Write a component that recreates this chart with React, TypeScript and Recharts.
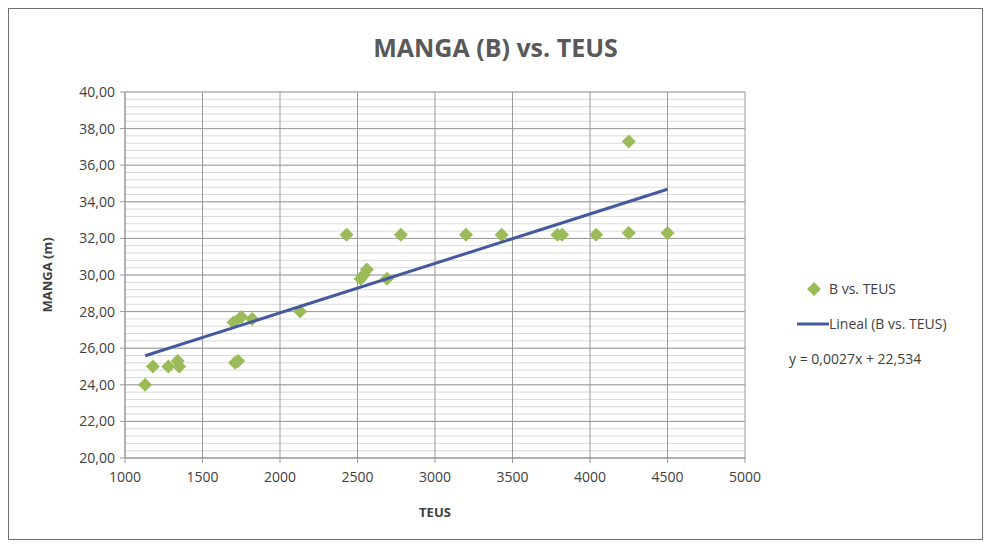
import {
  CartesianGrid,
  ComposedChart,
  Scatter,
  XAxis,
  YAxis,
} from "recharts";

const teus = [
  1130, 1180, 1280, 1340, 1350, 1710, 1730, 1700, 1750, 1820, 2130, 2430,
  2520, 2540, 2560, 2690, 2780, 3200, 3430, 3790, 3820, 4040, 4250, 4250,
  4500,
];
const manga = [
  24.0, 25.0, 25.0, 25.3, 25.0, 25.2, 25.3, 27.4, 27.7, 27.6, 28.0, 32.2,
  29.8, 30.0, 30.3, 29.8, 32.2, 32.2, 32.2, 32.2, 32.2, 32.2, 37.3, 32.3,
  32.3,
];
const xTicks = [1000, 1500, 2000, 2500, 3000, 3500, 4000, 4500, 5000];
const yTicks = [20, 22, 24, 26, 28, 30, 32, 34, 36, 38, 40];
const slope = 0.0027;
const intercept = 22.534;

const points = teus.map((x, i) => ({ x, y: manga[i] }));
const trendX = [Math.min(...teus), Math.max(...teus)];
const trend = trendX.map((x) => ({ x, y: slope * x + intercept }));

const minorTicks: number[] = [];
for (let i = 0; i <= 50; i++) minorTicks.push(20 + i * 0.4);

const FONT = "'Open Sans', 'Noto Sans', sans-serif";
const GREEN = "#9bbb59";
const BLUE = "#44599f";

const Diamond = (props: any) => {
  const { cx, cy } = props;
  const r = 7;
  return (
    <polygon
      points={`${cx},${cy - r} ${cx + r},${cy} ${cx},${cy + r} ${cx - r},${cy}`}
      fill={GREEN}
    />
  );
};

const fmt = (v: number) => v.toFixed(2).replace(".", ",");

// minor horizontal grid every 0.4, placed through the y axis scale
const minorGen = ({ yAxis, offset }: any) =>
  minorTicks.map((v) =>
    yAxis && typeof yAxis.scale === "function"
      ? yAxis.scale(v)
      : offset.top + (offset.height * (40 - v)) / 20
  );

export default function App() {
  return (
    <div
      style={{
        position: "relative",
        width: 973,
        height: 530,
        border: "1px solid #6f6f6f",
        background: "#fff",
        fontFamily: FONT,
      }}
    >
      <div
        style={{
          position: "absolute",
          top: 21,
          left: 0,
          width: 973,
          textAlign: "center",
          fontSize: 25,
          fontWeight: 700,
          color: "#595959",
        }}
      >
        MANGA (B) vs. TEUS
      </div>
      <ComposedChart
        width={973}
        height={530}
        margin={{ top: 83, right: 237, bottom: 20, left: 28 }}
      >
        <CartesianGrid
          vertical={false}
          horizontalCoordinatesGenerator={minorGen}
          stroke="#d9d9d9"
          strokeWidth={1}
        />
        <CartesianGrid
          stroke="#9a9a9a"
          strokeWidth={1}
          horizontalPoints={undefined}
        />
        <XAxis
          type="number"
          dataKey="x"
          domain={[1000, 5000]}
          ticks={xTicks}
          interval={0}
          height={61}
          stroke="#9a9a9a"
          tickSize={5}
          tickMargin={9}
          tick={{ fill: "#404040", fontSize: 14, fontFamily: FONT }}
          label={{
            value: "TEUS",
            position: "insideBottom",
            offset: 2,
            fill: "#404040",
            fontSize: 13,
            fontWeight: 700,
            fontFamily: FONT,
          }}
        />
        <YAxis
          type="number"
          dataKey="y"
          domain={[20, 40]}
          ticks={yTicks}
          interval={0}
          width={88}
          stroke="#9a9a9a"
          tickSize={5}
          tickMargin={5}
          tickFormatter={fmt}
          tick={{ fill: "#404040", fontSize: 14, fontFamily: FONT }}
          label={{
            value: "MANGA (m)",
            angle: -90,
            position: "insideLeft",
            offset: 10,
            style: { textAnchor: "middle" },
            fill: "#404040",
            fontSize: 13,
            fontWeight: 700,
            fontFamily: FONT,
          }}
        />
        <Scatter data={points} shape={Diamond} isAnimationActive={false} />
        <Scatter
          data={trend}
          line={{ stroke: BLUE, strokeWidth: 3 }}
          shape={() => <g />}
          isAnimationActive={false}
        />
      </ComposedChart>
      <div
        style={{
          position: "absolute",
          left: 780,
          top: 270,
          fontSize: 14,
          color: "#404040",
          lineHeight: "20px",
        }}
      >
        <div style={{ display: "flex", alignItems: "center", marginLeft: 18 }}>
          <svg width={14} height={14} style={{ marginRight: 8 }}>
            <polygon points="7,0 14,7 7,14 0,7" fill={GREEN} />
          </svg>
          B vs. TEUS
        </div>
        <div
          style={{
            display: "flex",
            alignItems: "center",
            marginTop: 15,
            marginLeft: 8,
          }}
        >
          <svg width={32} height={6}>
            <line x1={0} y1={3} x2={32} y2={3} stroke={BLUE} strokeWidth={3} />
          </svg>
          Lineal (B vs. TEUS)
        </div>
        <div style={{ marginTop: 15 }}>y = 0,0027x + 22,534</div>
      </div>
    </div>
  );
}
